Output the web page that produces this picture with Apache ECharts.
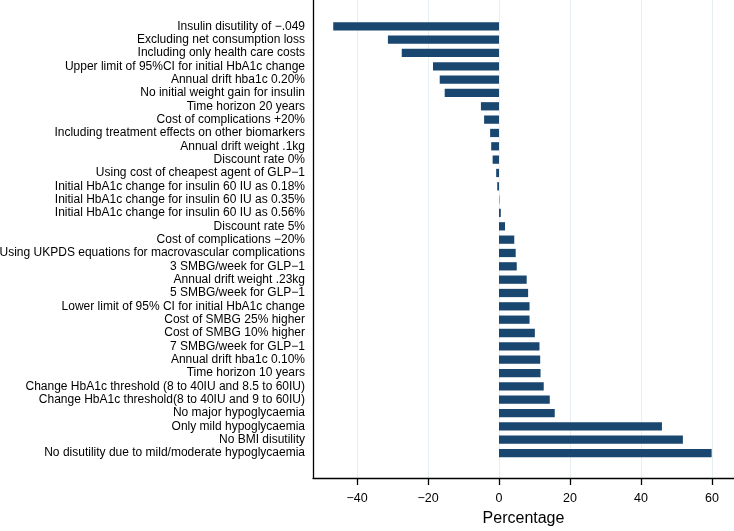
<!DOCTYPE html>
<html>
<head>
<meta charset="utf-8">
<script src="https://cdn.jsdelivr.net/npm/echarts@6/dist/echarts.min.js"></script>
<style>html,body{margin:0;padding:0;background:#fff}#c{width:734px;height:531px}</style>
</head>
<body>
<div id="c"></div>
<script>
var categories = [
  "Insulin disutility of \u2212.049",
  "Excluding net consumption loss",
  "Including only health care costs",
  "Upper limit of 95%CI for initial HbA1c change",
  "Annual drift hba1c 0.20%",
  "No initial weight gain for insulin",
  "Time horizon 20 years",
  "Cost of complications +20%",
  "Including treatment effects on other biomarkers",
  "Annual drift weight .1kg",
  "Discount rate 0%",
  "Using cost of cheapest agent of GLP\u22121",
  "Initial HbA1c change for insulin 60 IU as 0.18%",
  "Initial HbA1c change for insulin 60 IU as 0.35%",
  "Initial HbA1c change for insulin 60 IU as 0.56%",
  "Discount rate 5%",
  "Cost of complications \u221220%",
  "Using UKPDS equations for macrovascular complications",
  "3 SMBG/week for GLP\u22121",
  "Annual drift weight .23kg",
  "5 SMBG/week for GLP\u22121",
  "Lower limit of 95% CI for initial HbA1c change",
  "Cost of SMBG 25% higher",
  "Cost of SMBG 10% higher",
  "7 SMBG/week for GLP\u22121",
  "Annual drift hba1c 0.10%",
  "Time horizon 10 years",
  "Change HbA1c threshold (8 to 40IU and 8.5 to 60IU)",
  "Change HbA1c threshold(8 to 40IU and 9 to 60IU)",
  "No major hypoglycaemia",
  "Only mild hypoglycaemia",
  "No BMI disutility",
  "No disutility due to mild/moderate hypoglycaemia"
];
var percentages = [
  -46.7, -31.3, -27.4, -18.6, -16.7, -15.3, -5.1, -4.2, -2.5, -2.2, -1.8, -0.8,
  -0.5, 0.1, 0.5, 1.7, 4.3, 4.7, 5.0, 7.8, 8.2, 8.6, 8.6, 10.1, 11.4,
  11.6, 11.7, 12.6, 14.3, 15.7, 45.9, 51.8, 59.9
];
var xTicks = [-40, -20, 0, 20, 40, 60];

var xMin = -52.4, xMax = 66.2;
var chart = echarts.init(document.getElementById('c'), null, {renderer: 'canvas'});
var font = '"Liberation Sans", Arial, Helvetica, sans-serif';
chart.setOption({
  animation: false,
  backgroundColor: '#ffffff',
  grid: [
    {left: 313, right: 0, top: 0, bottom: 53, outerBoundsMode: 'none', containLabel: false},
    {left: 313, right: 0, top: 19.6, bottom: 71.3, outerBoundsMode: 'none', containLabel: false}
  ],
  xAxis: [
    {
      gridIndex: 0, type: 'value', min: xMin, max: xMax, interval: 20,
      name: 'Percentage', nameLocation: 'middle', nameGap: 33,
      nameTextStyle: {fontFamily: font, fontSize: 16, color: '#000'},
      axisLine: {show: true, onZero: false, lineStyle: {color: '#000', width: 1.3}},
      axisTick: {show: true, length: 7, lineStyle: {color: '#000', width: 1.3},
        customValues: xTicks},
      axisLabel: {fontFamily: font, fontSize: 12.5, color: '#000', margin: 14,
        customValues: xTicks,
        formatter: function (v) { return v < 0 ? '\u2212' + Math.abs(v) : String(v); }},
      splitLine: {show: true, lineStyle: {color: '#e6f0f2', width: 1}},
      showMinLabel: false, showMaxLabel: false
    },
    {
      gridIndex: 1, type: 'value', min: xMin, max: xMax, show: false
    }
  ],
  yAxis: [
    {
      gridIndex: 0, type: 'value', min: 0, max: 1,
      axisLine: {show: true, onZero: false, lineStyle: {color: '#000', width: 1.3}},
      axisTick: {show: false}, axisLabel: {show: false}, splitLine: {show: false}
    },
    {
      gridIndex: 1, type: 'category', data: categories, inverse: true,
      axisLine: {show: false}, axisTick: {show: false},
      axisLabel: {fontFamily: font, fontSize: 12, color: '#000', margin: 8, interval: 0}
    }
  ],
  series: [{
    type: 'bar',
    xAxisIndex: 1, yAxisIndex: 1,
    data: percentages,
    barCategoryGap: '38%',
    itemStyle: {color: '#1a476f'}
  }]
});
</script>
</body>
</html>
